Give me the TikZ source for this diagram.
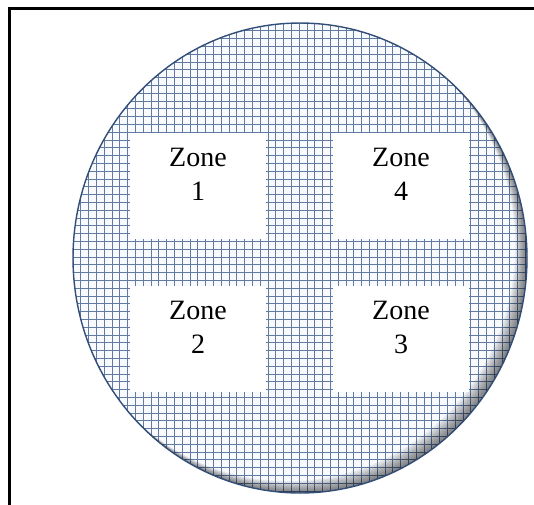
\documentclass[tikz,border=0pt]{standalone}
\usepackage{fontspec}
\setmainfont{Liberation Serif}
\usetikzlibrary{positioning}

\definecolor{gridblue}{RGB}{96,122,162}
\definecolor{rimblue}{RGB}{50,78,120}
\definecolor{paper}{RGB}{248,250,254}

\tikzset{
  zonebox/.style={fill=white, inner sep=0pt, minimum width=136pt, minimum height=106pt,
                  font=\fontsize{28}{34}\selectfont},
}
% texte de zone, remonte un peu dans la boite
\newcommand{\zonelabel}[1]{\raisebox{9pt}[\height][\depth]{\begin{tabular}{@{}c@{}}Zone\\#1\end{tabular}}}

\begin{document}
\begin{tikzpicture}[x=1pt,y=-1pt] % 1 unite = 1 px de l'image

% --------- PARAMETRES ----------
\def\cx{300}     % centre du disque
\def\cy{258}
\def\rx{227}     % demi-axe horizontal
\def\ry{235}     % demi-axe vertical
\def\pas{7.8}    % pas de la grille
% --------------------------------

\useasboundingbox (0,0) rectangle (534,504);
\clip (0,0) rectangle (534,504);

% Cadre (coupe a droite et en bas)
\draw[line width=2.2pt] (9.5,8.5) rectangle (560,530);

% Disque quadrille
\begin{scope}
  \clip (\cx,\cy) ellipse [x radius=\rx, y radius=\ry];
  \fill[paper] (\cx-\rx,\cy-\ry) rectangle (\cx+\rx,\cy+\ry);
  \foreach \k in {0,...,61}{
    \draw[gridblue, line width=0.75pt] (\cx-\rx+\k*\pas,\cy-\ry) -- (\cx-\rx+\k*\pas,\cy+\ry);
    \draw[gridblue, line width=0.75pt] (\cx-\rx,\cy-\ry+\k*\pas) -- (\cx+\rx,\cy-\ry+\k*\pas);
  }
  % ombre interieure en bas a droite
  \foreach \i in {1,...,12}{
    \fill[black, opacity=0.05, even odd rule]
      (\cx-\rx-20,\cy-\ry-20) rectangle (\cx+\rx+20,\cy+\ry+20)
      (\cx-\i,\cy-\i) ellipse [x radius=\rx, y radius=\ry];
  }
\end{scope}
\draw[rimblue, line width=1.4pt] (\cx,\cy) ellipse [x radius=\rx, y radius=\ry];

% Zones
\node[zonebox] (zone1) at (198,186)   {\zonelabel{1}};
\node[zonebox] (zone4) at (401,186)   {\zonelabel{4}};
\node[zonebox] (zone2) at (198,338.5) {\zonelabel{2}};
\node[zonebox] (zone3) at (401,338.5) {\zonelabel{3}};

\end{tikzpicture}
\end{document}
